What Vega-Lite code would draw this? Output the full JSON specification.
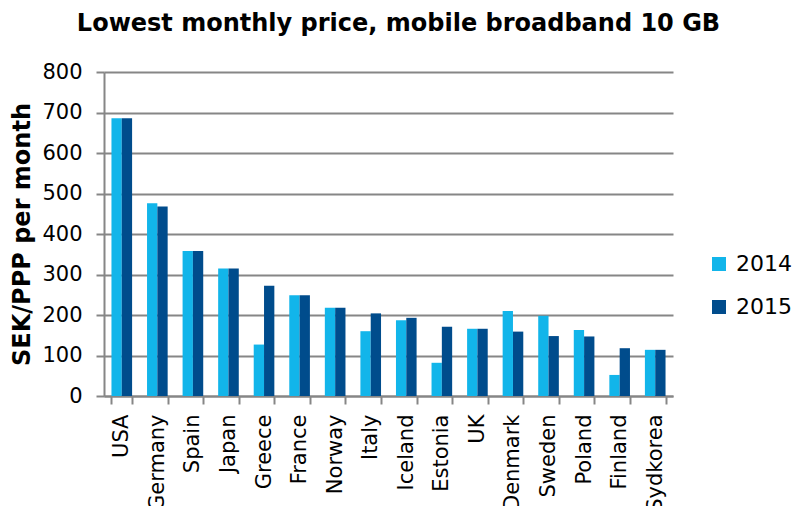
{
  "$schema": "https://vega.github.io/schema/vega-lite/v6.json",
  "width": 569,
  "height": 324,
  "autosize": {"type": "none"},
  "padding": {"left": 104, "top": 72, "right": 124, "bottom": 110},
  "background": "white",
  "title": {
    "text": "Lowest monthly price, mobile broadband 10 GB",
    "font": "DejaVu Sans",
    "fontSize": 24,
    "fontWeight": "bold",
    "color": "#000000",
    "anchor": "middle",
    "dx": 10,
    "offset": 25
  },
  "config": {
    "view": {"stroke": null},
    "font": "DejaVu Sans"
  },
  "data": {
    "values": [
      {"country": "USA", "year": "2014", "value": 686},
      {"country": "USA", "year": "2015", "value": 686},
      {"country": "Germany", "year": "2014", "value": 476},
      {"country": "Germany", "year": "2015", "value": 468},
      {"country": "Spain", "year": "2014", "value": 358},
      {"country": "Spain", "year": "2015", "value": 358},
      {"country": "Japan", "year": "2014", "value": 315},
      {"country": "Japan", "year": "2015", "value": 315},
      {"country": "Greece", "year": "2014", "value": 127},
      {"country": "Greece", "year": "2015", "value": 272},
      {"country": "France", "year": "2014", "value": 249},
      {"country": "France", "year": "2015", "value": 249},
      {"country": "Norway", "year": "2014", "value": 218},
      {"country": "Norway", "year": "2015", "value": 218},
      {"country": "Italy", "year": "2014", "value": 160},
      {"country": "Italy", "year": "2015", "value": 204},
      {"country": "Iceland", "year": "2014", "value": 187},
      {"country": "Iceland", "year": "2015", "value": 193},
      {"country": "Estonia", "year": "2014", "value": 82},
      {"country": "Estonia", "year": "2015", "value": 171},
      {"country": "UK", "year": "2014", "value": 166},
      {"country": "UK", "year": "2015", "value": 166},
      {"country": "Denmark", "year": "2014", "value": 210},
      {"country": "Denmark", "year": "2015", "value": 159},
      {"country": "Sweden", "year": "2014", "value": 198},
      {"country": "Sweden", "year": "2015", "value": 148},
      {"country": "Poland", "year": "2014", "value": 163},
      {"country": "Poland", "year": "2015", "value": 147},
      {"country": "Finland", "year": "2014", "value": 52},
      {"country": "Finland", "year": "2015", "value": 118},
      {"country": "Sydkorea", "year": "2014", "value": 114},
      {"country": "Sydkorea", "year": "2015", "value": 114}
    ]
  },
  "mark": {"type": "bar"},
  "encoding": {
    "x": {
      "field": "country",
      "type": "nominal",
      "sort": null,
      "scale": {"paddingInner": 0.42, "paddingOuter": 0.21},
      "axis": {
        "title": null,
        "labelAngle": -90,
        "labelAlign": "right",
        "labelBaseline": "middle",
        "labelFontSize": 21,
        "labelColor": "#000000",
        "labelPadding": 10,
        "tickBand": "extent",
        "tickSize": 8,
        "tickWidth": 2,
        "tickColor": "#868686",
        "domainColor": "#868686",
        "domainWidth": 2
      }
    },
    "xOffset": {"field": "year", "type": "nominal"},
    "y": {
      "field": "value",
      "type": "quantitative",
      "scale": {"domain": [0, 800], "nice": false},
      "axis": {
        "title": "SEK/PPP per month",
        "titleFontSize": 24,
        "titleFontWeight": "bold",
        "titleColor": "#000000",
        "titleAngle": -90,
        "titleX": -82,
        "titleY": 162,
        "titleAlign": "center",
        "titleBaseline": "middle",
        "values": [0, 100, 200, 300, 400, 500, 600, 700, 800],
        "labelFontSize": 21,
        "labelColor": "#000000",
        "labelPadding": 14,
        "tickSize": 8,
        "tickWidth": 2,
        "tickColor": "#868686",
        "domainColor": "#868686",
        "domainWidth": 2,
        "grid": true,
        "gridColor": "#868686",
        "gridWidth": 2
      }
    },
    "color": {
      "field": "year",
      "type": "nominal",
      "scale": {"domain": ["2014", "2015"], "range": ["#12B5EA", "#004C8C"]},
      "legend": {
        "title": null,
        "orient": "none",
        "legendX": 604,
        "legendY": 181,
        "symbolType": "square",
        "symbolSize": 196,
        "symbolStrokeWidth": 0,
        "labelFontSize": 22,
        "labelColor": "#000000",
        "labelOffset": 6,
        "rowPadding": 21
      }
    }
  }
}
